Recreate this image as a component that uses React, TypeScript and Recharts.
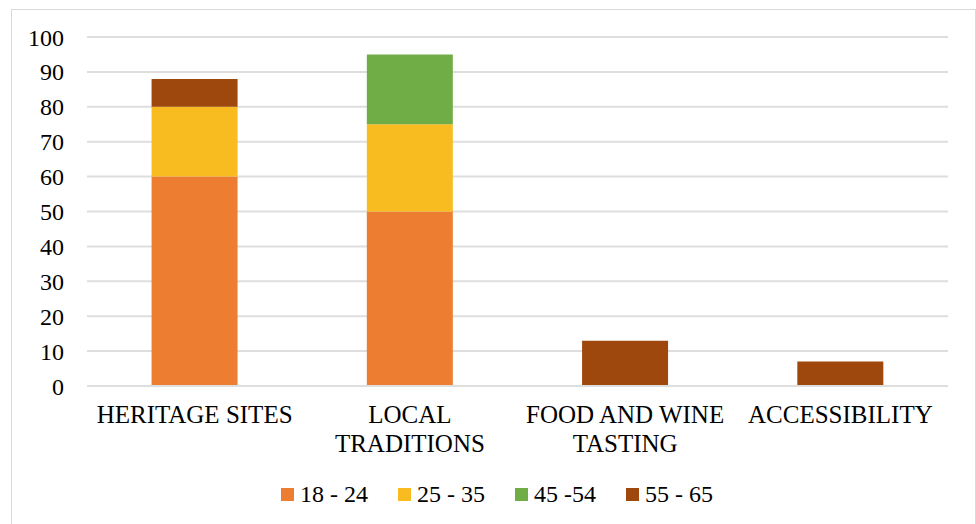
import { BarChart, Bar, XAxis, YAxis, CartesianGrid, Legend } from "recharts";

const categories = ["HERITAGE SITES", "LOCAL TRADITIONS", "FOOD AND WINE TASTING", "ACCESSIBILITY"];
const age18to24 = [60, 50, 0, 0];
const age25to35 = [20, 25, 0, 0];
const age45to54 = [0, 20, 0, 0];
const age55to65 = [8, 0, 13, 7];
const yTicks = [0, 10, 20, 30, 40, 50, 60, 70, 80, 90, 100];

const series = [
    { key: "a", name: "18 - 24", color: "#ED7D31" },
    { key: "b", name: "25 - 35", color: "#F8BC20" },
    { key: "c", name: "45 -54", color: "#70AD47" },
    { key: "d", name: "55 - 65", color: "#9E480E" },
];

const chartData = categories.map((name, i) => ({
    name,
    a: age18to24[i],
    b: age25to35[i],
    c: age45to54[i],
    d: age55to65[i],
}));

const FONT = "'Liberation Serif', 'Times New Roman', serif";
const LABEL_SIZE = 25;

// greedy word wrap, measured with a canvas so it matches the real font
function wrapLabel(text: string, maxWidth: number): string[] {
    const ctx = document.createElement("canvas").getContext("2d");
    if (!ctx) return [text];
    ctx.font = `${LABEL_SIZE}px ${FONT}`;
    const lines: string[] = [];
    let current = "";
    for (const word of text.split(" ")) {
        const candidate = current ? `${current} ${word}` : word;
        if (current && ctx.measureText(candidate).width > maxWidth) {
            lines.push(current);
            current = word;
        } else {
            current = candidate;
        }
    }
    if (current) lines.push(current);
    return lines;
}

function CategoryTick(props: any) {
    const { x, y, payload } = props;
    const lines = wrapLabel(String(payload.value), 210);
    return (
        <text x={x} y={y} textAnchor="middle" fontSize={LABEL_SIZE} fontFamily={FONT} fill="#000">
            {lines.map((line, i) => (
                <tspan key={i} x={x} dy={29}>
                    {line}
                </tspan>
            ))}
        </text>
    );
}

function LegendContent() {
    return (
        <div style={{ display: "flex", gap: 30, fontFamily: FONT, fontSize: 24, color: "#000", alignItems: "center", height: 28 }}>
            {series.map((s) => (
                <div key={s.key} style={{ display: "flex", alignItems: "center" }}>
                    <span style={{ display: "inline-block", width: 13, height: 13, background: s.color, marginRight: 6 }} />
                    <span>{s.name}</span>
                </div>
            ))}
        </div>
    );
}

export default function App() {
    return (
        <div
            style={{
                position: "absolute",
                left: 0,
                top: 0,
                width: 976,
                height: 524,
                overflow: "hidden",
                background: "#fff",
                fontFamily: FONT,
            }}
        >
            <div
                style={{
                    position: "absolute",
                    left: 11,
                    top: 9,
                    width: 965,
                    height: 540,
                    border: "1px solid #d9d9d9",
                    boxSizing: "border-box",
                }}
            />
            <div style={{ position: "absolute", left: 0, top: 0 }}>
                <BarChart
                    width={976}
                    height={524}
                    data={chartData}
                    margin={{ top: 37, right: 28, left: 0, bottom: 80 }}
                    barCategoryGap="30%"
                    style={{ fontFamily: FONT }}
                >
                    <CartesianGrid vertical={false} stroke="#dedede" strokeWidth={2} />
                    <XAxis
                        dataKey="name"
                        height={30}
                        tickLine={false}
                        axisLine={{ stroke: "#dedede", strokeWidth: 2 }}
                        tick={<CategoryTick />}
                        interval={0}
                    />
                    <YAxis
                        width={87}
                        domain={[0, 100]}
                        ticks={yTicks}
                        interval={0}
                        axisLine={false}
                        tickLine={false}
                        tickSize={6}
                        tickMargin={17}
                        tick={{ fill: "#000", fontSize: 24, fontFamily: FONT }}
                    />
                    <Legend
                        content={<LegendContent />}
                        wrapperStyle={{ position: "absolute", left: 281, top: 480, width: "auto" }}
                    />
                    {series.map((s) => (
                        <Bar
                            key={s.key}
                            dataKey={s.key}
                            name={s.name}
                            stackId="age"
                            fill={s.color}
                            isAnimationActive={false}
                        />
                    ))}
                </BarChart>
            </div>
        </div>
    );
}
